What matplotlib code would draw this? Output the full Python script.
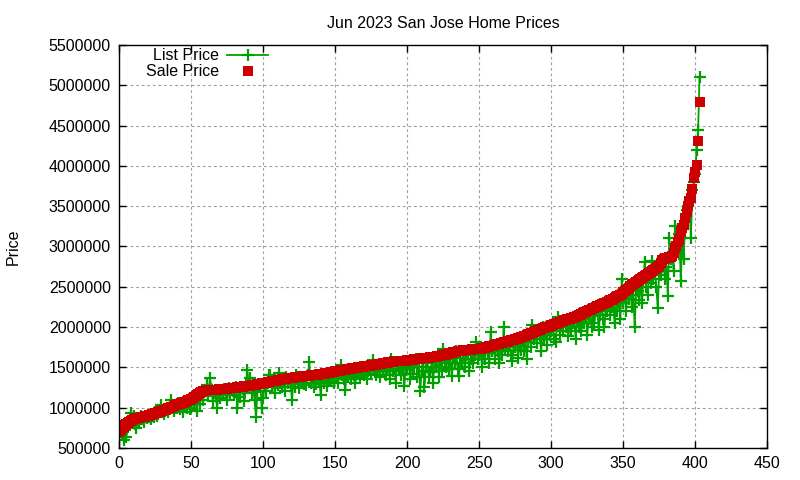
import matplotlib
matplotlib.use("Agg")
import matplotlib.pyplot as plt
from matplotlib.ticker import MultipleLocator, FuncFormatter

plt.rcParams['font.family'] = ['Liberation Sans', 'DejaVu Sans']

# prices in thousands of dollars, one entry per home (sorted by sale price)
sale_k = [
    700, 722, 745, 762, 780, 795, 808, 820, 835, 848,
    858, 862, 866, 870, 875, 878, 882, 886, 890, 895,
    900, 905, 910, 916, 922, 928, 935, 942, 948, 955,
    962, 968, 975, 982, 990, 998, 1005, 1012, 1020, 1028,
    1035, 1042, 1048, 1055, 1062, 1068, 1075, 1082, 1090, 1100,
    1110, 1120, 1130, 1142, 1155, 1168, 1180, 1195, 1205, 1210,
    1212, 1215, 1216, 1218, 1219, 1220, 1221, 1222, 1223, 1225,
    1226, 1228, 1230, 1232, 1234, 1236, 1238, 1240, 1242, 1244,
    1246, 1248, 1250, 1252, 1255, 1258, 1260, 1262, 1265, 1268,
    1270, 1273, 1276, 1280, 1283, 1286, 1290, 1294, 1298, 1302,
    1305, 1308, 1311, 1314, 1318, 1322, 1325, 1328, 1332, 1336,
    1340, 1343, 1346, 1349, 1352, 1355, 1358, 1362, 1365, 1368,
    1370, 1372, 1375, 1378, 1380, 1382, 1385, 1387, 1389, 1391,
    1393, 1395, 1397, 1399, 1400, 1402, 1404, 1405, 1408, 1412,
    1415, 1418, 1421, 1424, 1427, 1430, 1434, 1438, 1442, 1446,
    1450, 1453, 1456, 1459, 1462, 1465, 1468, 1471, 1474, 1477,
    1480, 1483, 1486, 1489, 1492, 1495, 1498, 1501, 1504, 1507,
    1510, 1513, 1516, 1519, 1522, 1525, 1528, 1531, 1534, 1537,
    1540, 1543, 1546, 1549, 1552, 1555, 1558, 1561, 1564, 1567,
    1570, 1572, 1574, 1576, 1578, 1580, 1581, 1582, 1583, 1584,
    1585, 1588, 1590, 1592, 1595, 1598, 1600, 1602, 1605, 1608,
    1610, 1612, 1614, 1616, 1618, 1620, 1622, 1624, 1626, 1630,
    1634, 1638, 1642, 1646, 1650, 1654, 1658, 1662, 1666, 1672,
    1678, 1682, 1686, 1690, 1694, 1698, 1700, 1703, 1706, 1709,
    1712, 1714, 1716, 1718, 1720, 1721, 1722, 1723, 1724, 1726,
    1728, 1732, 1736, 1740, 1745, 1750, 1755, 1760, 1765, 1770,
    1775, 1780, 1785, 1790, 1795, 1800, 1805, 1810, 1815, 1820,
    1825, 1830, 1835, 1840, 1845, 1850, 1855, 1860, 1866, 1872,
    1878, 1885, 1892, 1900, 1908, 1916, 1924, 1932, 1940, 1948,
    1955, 1962, 1968, 1975, 1982, 1988, 1995, 2000, 2006, 2012,
    2020, 2026, 2032, 2038, 2044, 2050, 2058, 2066, 2074, 2082,
    2090, 2095, 2100, 2105, 2110, 2115, 2120, 2128, 2136, 2144,
    2152, 2162, 2172, 2182, 2192, 2200, 2208, 2216, 2224, 2232,
    2240, 2248, 2256, 2264, 2272, 2280, 2288, 2296, 2304, 2312,
    2320, 2330, 2340, 2350, 2360, 2370, 2380, 2390, 2400, 2415,
    2430, 2445, 2460, 2475, 2490, 2505, 2520, 2535, 2550, 2560,
    2570, 2580, 2592, 2605, 2618, 2632, 2645, 2658, 2670, 2682,
    2694, 2705, 2716, 2728, 2740, 2760, 2790, 2830, 2850, 2855,
    2860, 2862, 2865, 2868, 2880, 2920, 2980, 3010, 3050, 3095,
    3177, 3230, 3266, 3350, 3433, 3508, 3560, 3607, 3710, 3850,
    3920, 4008, 4312, 4795,
]

list_k = [
    720, 700, 680, 600, 720, 640, 760, 790, 930, 820,
    890, 800, 745, 850, 830, 900, 860, 820, 880, 870,
    880, 910, 860, 900, 880, 940, 900, 920, 960, 1030,
    940, 920, 960, 1000, 950, 980, 1100, 990, 960, 1000,
    1000, 1060, 980, 1040, 950, 1050, 1010, 1000, 1060, 980,
    1000, 1090, 1040, 1100, 960, 1150, 1040, 1150, 1100, 1190,
    1200, 1280, 1140, 1370, 1230, 1080, 1180, 1160, 1000, 1200,
    1120, 1220, 1160, 1230, 1200, 1100, 1240, 1180, 1230, 1210,
    1150, 1260, 1000, 1200, 1130, 1250, 1230, 1080, 1300, 1470,
    1240, 1365, 1180, 1250, 1100, 880, 1200, 1260, 1280, 1000,
    1120, 1280, 1200, 1300, 1405, 1400, 1250, 1330, 1180, 1300,
    1280, 1430, 1300, 1250, 1340, 1200, 1380, 1310, 1350, 1290,
    1100, 1350, 1260, 1400, 1300, 1240, 1380, 1330, 1290, 1350,
    1280, 1400, 1560, 1300, 1380, 1250, 1350, 1290, 1400, 1330,
    1150, 1400, 1300, 1380, 1270, 1420, 1350, 1330, 1400, 1300,
    1380, 1420, 1300, 1450, 1530, 1400, 1350, 1220, 1420, 1380,
    1430, 1350, 1470, 1400, 1300, 1480, 1420, 1380, 1500, 1450,
    1400, 1490, 1350, 1450, 1500, 1420, 1590, 1480, 1400, 1460,
    1500, 1380, 1520, 1450, 1540, 1400, 1480, 1530, 1350, 1600,
    1450, 1530, 1300, 1560, 1480, 1540, 1400, 1500, 1265, 1550,
    1480, 1560, 1350, 1580, 1420, 1500, 1600, 1380, 1550, 1200,
    1450, 1580, 1250, 1500, 1600, 1380, 1440, 1550, 1300, 1600,
    1500, 1620, 1380, 1600, 1450, 1730, 1550, 1500, 1650, 1480,
    1600, 1395, 1650, 1550, 1700, 1480, 1395, 1620, 1550, 1680,
    1500, 1650, 1700, 1450, 1600, 1720, 1550, 1650, 1810, 1600,
    1650, 1700, 1500, 1720, 1600, 1750, 1680, 1550, 1940, 1700,
    1750, 1600, 1780, 1700, 1550, 1800, 1650, 2000, 1720, 1780,
    1700, 1820, 1650, 1580, 1800, 1750, 1850, 1620, 1800, 1720,
    1850, 1700, 1880, 1600, 1820, 1900, 1750, 2020, 1850, 1900,
    1800, 1950, 1900, 1700, 2000, 1850, 1960, 1780, 2000, 1900,
    1950, 2000, 1850, 1810, 2040, 2125, 1900, 2050, 1950, 2080,
    2000, 2060, 1890, 2100, 1950, 2050, 2110, 1850, 2080, 2000,
    2100, 1950, 2150, 2050, 2180, 1900, 2100, 2200, 2000, 2150,
    2050, 2200, 2250, 1960, 2150, 2280, 2100, 2000, 2250, 2200,
    2300, 2150, 2250, 2350, 2050, 2300, 2200, 2380, 2100, 2600,
    2300, 2400, 2200, 2450, 2350, 2500, 2250, 2400, 2000, 2480,
    2450, 2340, 2550, 2300, 2600, 2810, 2500, 2400, 2650, 2550,
    2820, 2600, 2680, 2500, 2230, 2700, 2650, 2750, 2800, 2600,
    2750, 2380, 3110, 2850, 2900, 2700, 3250, 2950, 3000, 3150,
    2570, 3100, 2840, 3300, 3450, 3500, 3550, 3100, 3700, 3800,
    3900, 4200, 4440, 5110,
]

sale = [v * 1000 for v in sale_k]
list_price = [v * 1000 for v in list_k]
idx = list(range(len(sale)))

fig = plt.figure(figsize=(8, 4.8), dpi=100)
ax = fig.add_axes([0.149, 0.067, 0.810, 0.839])

ax.plot(idx, list_price, color='#00a000', lw=1.3, marker='+', ms=8, mew=1.6,
        label='List Price')
ax.plot(idx, sale, ls='none', color='#cc0000', marker='s', ms=6.5, mew=0,
        label='Sale Price')

ax.set_xlim(0, 450)
ax.set_ylim(500000, 5500000)
ax.xaxis.set_major_locator(MultipleLocator(50))
ax.yaxis.set_major_locator(MultipleLocator(500000))
ax.yaxis.set_major_formatter(FuncFormatter(lambda v, p: '%d' % v))

ax.grid(True, color='#a0a0a0', lw=0.8, ls=(0, (2.5, 2.5)))
ax.tick_params(direction='in', length=5, width=1, top=True, right=True,
               labelsize=11.5, pad=6)
for s in ax.spines.values():
    s.set_linewidth(1)

ax.set_title('Jun 2023 San Jose Home Prices', fontsize=11.5, pad=12)
ax.set_ylabel('Price', fontsize=11.5)
ax.yaxis.set_label_coords(-0.152, 0.5)

ax.legend(loc='upper left', bbox_to_anchor=(0.036, 1.0), frameon=False,
          markerfirst=False, numpoints=1, fontsize=11.5, handlelength=2.6,
          handletextpad=0.5, labelspacing=0.05, borderaxespad=0, borderpad=0.2)

fig.savefig('out.png', dpi=100)
